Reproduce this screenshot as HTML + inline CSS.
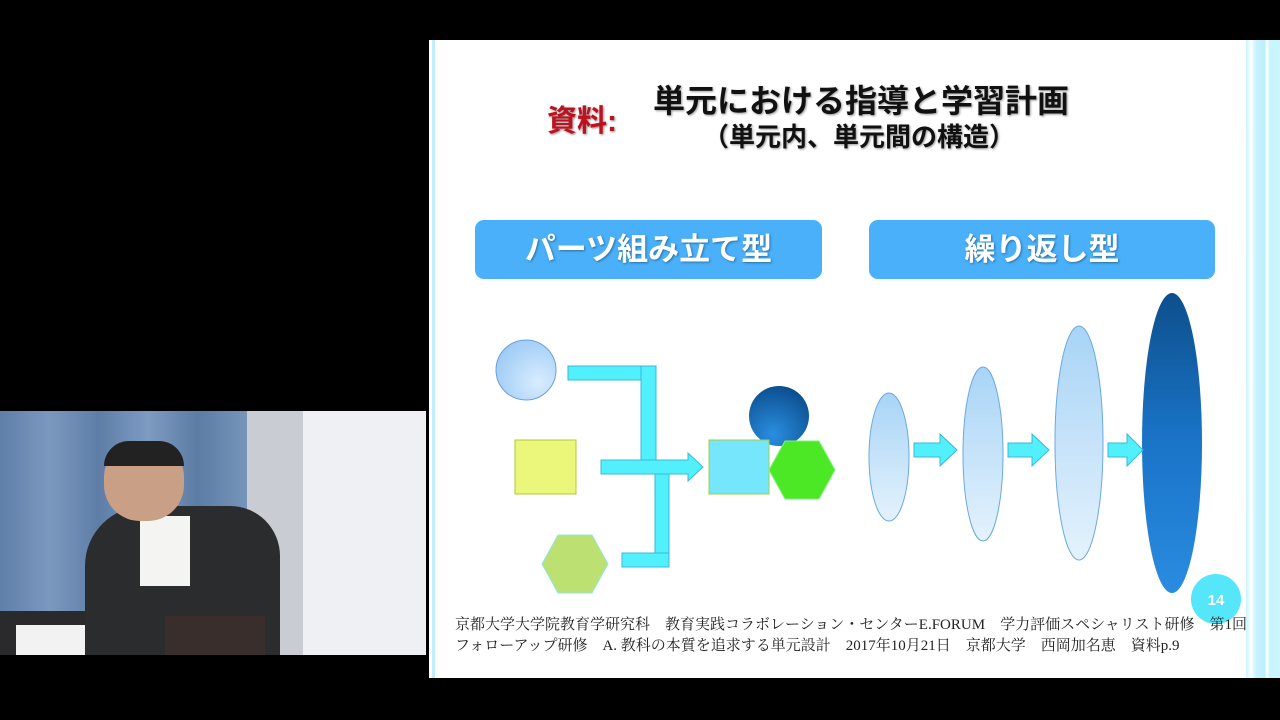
<!DOCTYPE html><html><head><meta charset="utf-8"><style>
body{margin:0;width:1280px;height:720px;background:#000;overflow:hidden;position:relative;font-family:"Liberation Sans","Noto Sans CJK JP",sans-serif}
.a{position:absolute}
</style></head><body>
<div class="a" style="left:0;top:411px;width:426px;height:244px;background:#e6eaee;overflow:hidden">
<div class="a" style="left:0;top:0;width:247px;height:244px;background:linear-gradient(90deg,#5f7fa8,#7b98bf 20%,#5e7ea7 40%,#7e9bc2 60%,#5c7ca4 80%,#7795bb)"></div>
<div class="a" style="left:247px;top:0;width:56px;height:244px;background:#c9cdd3"></div>
<div class="a" style="left:303px;top:0;width:123px;height:244px;background:#eef0f3"></div>
<div class="a" style="left:0;top:200px;width:258px;height:44px;background:#2a2a2c"></div>
<div class="a" style="left:16px;top:214px;width:82px;height:30px;background:#f2f2f2"></div>
<div class="a" style="left:85px;top:95px;width:195px;height:149px;background:#2b2c2e;border-radius:60px 50px 0 0"></div>
<div class="a" style="left:140px;top:105px;width:50px;height:70px;background:#f4f4f2"></div>
<div class="a" style="left:104px;top:30px;width:80px;height:80px;background:#c99f86;border-radius:45%"></div>
<div class="a" style="left:104px;top:30px;width:80px;height:25px;background:#222;border-radius:40px 40px 0 0"></div>
<div class="a" style="left:165px;top:205px;width:100px;height:39px;background:#3a2e2c"></div>
</div>
<div class="a" style="left:429px;top:40px;width:851px;height:638px;background:#fff"></div>
<div class="a" style="left:432px;top:40px;width:3px;height:638px;background:#bfefff"></div>
<div class="a" style="left:1246px;top:40px;width:34px;height:638px;background:linear-gradient(90deg,#c8f4ff,#fff 15%,#c6f2ff 30%,#bdf0fc 55%,#fff 62%,#c9f5ff 70%,#c9f5ff)"></div>
<div class="a" style="left:547px;top:96px;color:#c0101e;font-size:30px;font-weight:bold;text-shadow:1px 1px 2px #888">資料:</div>
<div class="a" style="left:653px;top:76px;font-size:32px;font-weight:bold;color:#111;text-shadow:1px 1px 2px #999">単元における指導と学習計画</div>
<div class="a" style="left:703px;top:117px;font-size:26px;font-weight:bold;color:#111;text-shadow:1px 1px 2px #999">（単元内、単元間の構造）</div>
<div class="a" style="left:475px;top:220px;width:347px;height:59px;background:#4ab0fa;border-radius:9px;color:#fff;font-size:31px;font-weight:bold;text-align:center;line-height:59px;text-shadow:1px 1px 2px #2a70a0">パーツ組み立て型</div>
<div class="a" style="left:869px;top:220px;width:346px;height:59px;background:#4ab0fa;border-radius:9px;color:#fff;font-size:31px;font-weight:bold;text-align:center;line-height:59px;text-shadow:1px 1px 2px #2a70a0">繰り返し型</div>
<svg class="a" style="left:0;top:0" width="1280" height="720">
<defs>
<radialGradient id="lb" cx="70%" cy="70%" r="80%"><stop offset="0" stop-color="#d8ecff"/><stop offset="1" stop-color="#9ccaf4"/></radialGradient>
<radialGradient id="db" cx="40%" cy="80%" r="80%"><stop offset="0" stop-color="#2a8ee0"/><stop offset="1" stop-color="#0c4f90"/></radialGradient>
<linearGradient id="ev" x1="0" y1="0" x2="0" y2="1"><stop offset="0" stop-color="#a8d4f6"/><stop offset="1" stop-color="#e4f2fd"/></linearGradient>
<linearGradient id="ed" x1="0" y1="0" x2="0" y2="1"><stop offset="0" stop-color="#0d4f8c"/><stop offset="0.5" stop-color="#1a74c8"/><stop offset="1" stop-color="#2a8ce0"/></linearGradient>
</defs>
<circle cx="526" cy="370" r="30" fill="url(#lb)" stroke="#6aa0d8"/>
<rect x="515" y="440" width="61" height="54" fill="#eaf77a" stroke="#b6c830"/>
<polygon points="542,564 558,535 592,535 608,564 592,593 558,593" fill="#bde073" stroke="#8ee8e0"/>
<g fill="#52effd" stroke="#38b8d8" stroke-width="1">
<rect x="568" y="366" width="87" height="14"/><rect x="641" y="366" width="15" height="100"/>
<rect x="655" y="474" width="14" height="93"/><rect x="622" y="553" width="47" height="14"/>
<polygon points="601,460 688,460 688,453 703,467 688,481 688,474 601,474"/>
</g>
<circle cx="779" cy="416" r="30" fill="url(#db)"/>
<rect x="709" y="440" width="60" height="54" fill="#76e6fc" stroke="#9cd040"/>
<polygon points="769,470 785,441 819,441 835,470 819,499 785,499" fill="#4ce826" stroke="#80f080"/>
<ellipse cx="889" cy="457" rx="20" ry="64" fill="url(#ev)" stroke="#6aaae0"/>
<ellipse cx="983" cy="454" rx="20" ry="87" fill="url(#ev)" stroke="#6aaae0"/>
<ellipse cx="1079" cy="443" rx="24" ry="117" fill="url(#ev)" stroke="#6aaae0"/>
<ellipse cx="1172" cy="443" rx="30" ry="150" fill="url(#ed)"/>
<g fill="#52effd" stroke="#38b8d8">
<polygon points="914,443 940,443 940,434 957,450 940,466 940,457 914,457"/>
<polygon points="1008,443 1032,443 1032,434 1049,450 1032,466 1032,457 1008,457"/>
<polygon points="1108,443 1127,443 1127,434 1143,450 1127,466 1127,457 1108,457"/>
</g>
<circle cx="1216" cy="599" r="25" fill="#55e6fa"/>
<text x="1216" y="605" font-size="15" font-weight="bold" fill="#fff" text-anchor="middle" font-family="Liberation Sans">14</text>
</svg>
<div class="a" style="left:455px;top:615px;font-size:15px;color:#222;line-height:21px;font-family:'Liberation Serif','Noto Serif CJK SC',serif;white-space:nowrap">京都大学大学院教育学研究科　教育実践コラボレーション・センターE.FORUM　学力評価スペシャリスト研修　第1回<br>フォローアップ研修　A. 教科の本質を追求する単元設計　2017年10月21日　京都大学　西岡加名恵　資料p.9</div>
</body></html>
